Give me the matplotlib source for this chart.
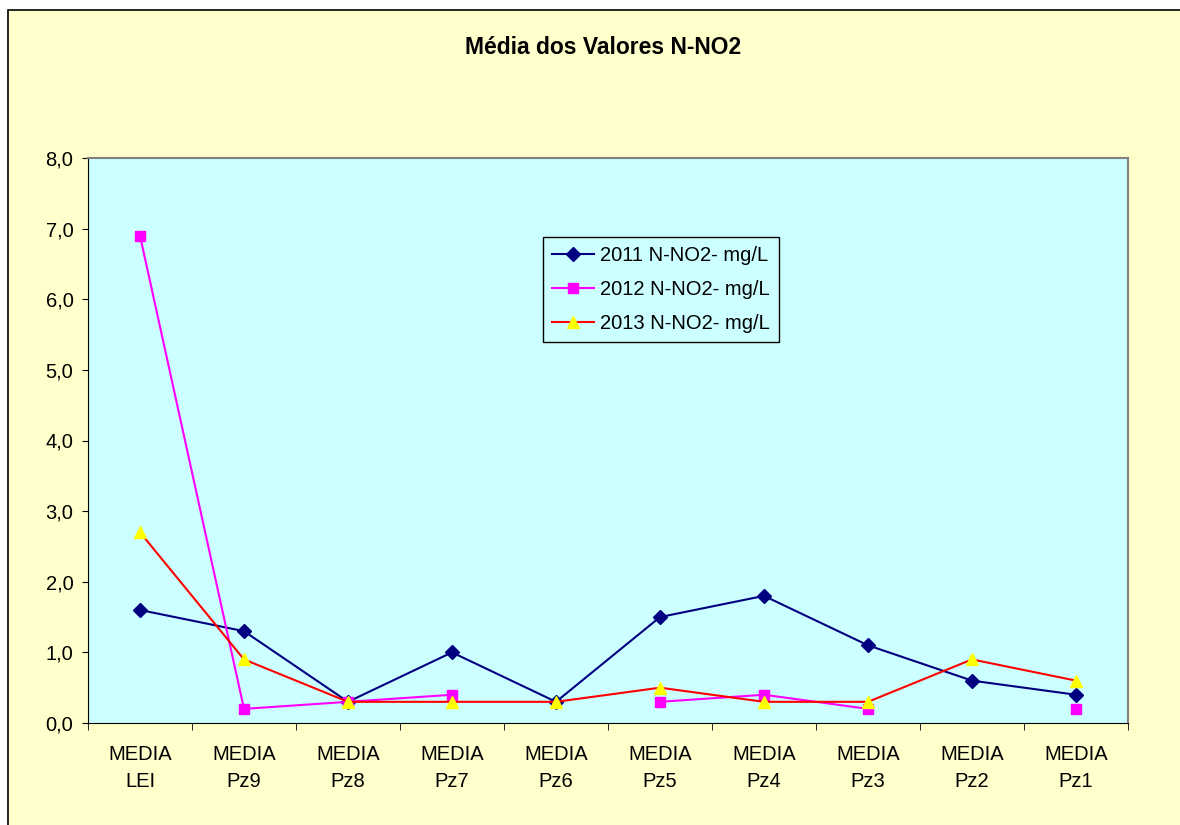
import matplotlib
matplotlib.use("Agg")
import matplotlib.pyplot as plt
import numpy as np
from matplotlib.patches import Rectangle
from matplotlib.ticker import FuncFormatter, FixedLocator

plt.rcParams["font.family"] = ["Liberation Sans", "DejaVu Sans"]

categories = ["MEDIA\nLEI", "MEDIA\nPz9", "MEDIA\nPz8", "MEDIA\nPz7", "MEDIA\nPz6",
              "MEDIA\nPz5", "MEDIA\nPz4", "MEDIA\nPz3", "MEDIA\nPz2", "MEDIA\nPz1"]
values_2011 = [1.6, 1.3, 0.3, 1.0, 0.3, 1.5, 1.8, 1.1, 0.6, 0.4]
values_2012 = [6.9, 0.2, 0.3, 0.4, np.nan, 0.3, 0.4, 0.2, np.nan, 0.2]
values_2013 = [2.7, 0.9, 0.3, 0.3, 0.3, 0.5, 0.3, 0.3, 0.9, 0.6]
series_labels = ["2011 N-NO2- mg/L", "2012 N-NO2- mg/L", "2013 N-NO2- mg/L"]


def main():
    fig = plt.figure(figsize=(11.8, 8.25), dpi=100)
    fig.patch.set_facecolor("white")

    # chart area frame
    W, H = 1180, 825
    frame = Rectangle((8 / W, -0.05), 1.1, (825 - 10) / H + 0.05,
                      transform=fig.transFigure, facecolor="#FFFFCC",
                      edgecolor="black", linewidth=1.2, zorder=-10)
    fig.patches.append(frame)

    ax = fig.add_axes([88 / W, (825 - 723) / H, (1128 - 88) / W, (723 - 158) / H])
    ax.set_zorder(5)
    ax.set_facecolor("#CCFFFF")

    x = np.arange(len(categories))
    ax.plot(x, values_2011, color="#000080", marker="D", markersize=7,
            linewidth=1.5, label=series_labels[0])
    ax.plot(x, values_2012, color="#FF00FF", marker="s", markersize=7,
            linewidth=1.5, label=series_labels[1])
    ax.plot(x, values_2013, color="#FF0000", marker="^", markersize=9,
            markerfacecolor="#FFFF00", markeredgecolor="#FFFF00",
            linewidth=1.5, label=series_labels[2])

    ax.set_xlim(-0.5, len(categories) - 0.5)
    ax.set_ylim(0, 8)
    ax.set_yticks(np.arange(0, 9, 1))
    ax.yaxis.set_major_formatter(FuncFormatter(lambda v, p: f"{v:.1f}".replace(".", ",")))

    ax.set_xticks(x)
    ax.set_xticklabels(categories, fontsize=14.5, linespacing=1.55)
    ax.xaxis.set_minor_locator(FixedLocator(np.arange(-0.5, len(categories), 1)))
    ax.tick_params(axis="x", which="major", length=0, pad=16)
    ax.tick_params(axis="x", which="minor", length=5, direction="out")
    ax.tick_params(axis="y", length=4.5, direction="out", labelsize=14.5, pad=6)

    for side in ("top", "right"):
        ax.spines[side].set_color("#808080")
        ax.spines[side].set_linewidth(1.5)
    for side in ("left", "bottom"):
        ax.spines[side].set_color("black")

    leg = ax.legend(loc="upper left", bbox_to_anchor=(0.4375, 0.860),
                    borderaxespad=0, fontsize=14.5, frameon=True, fancybox=False,
                    borderpad=0.45, labelspacing=0.75, handlelength=2.1,
                    handletextpad=0.3)
    leg.get_frame().set_edgecolor("black")
    leg.get_frame().set_facecolor("#CCFFFF")
    leg.get_frame().set_alpha(1)

    fig.text(603 / W, 1 - 48 / H, "Média dos Valores N-NO2", ha="center",
             va="center", fontsize=16.5, fontweight="bold")

    fig.savefig("out.png", dpi=100)


if __name__ == "__main__":
    main()
